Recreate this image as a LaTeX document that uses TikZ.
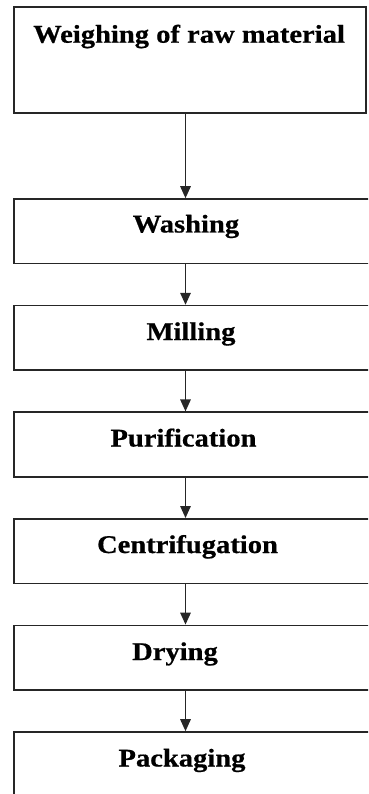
\documentclass[tikz,border=0pt]{standalone}
\usepackage{fontspec}
\setmainfont{Liberation Serif}[FakeStretch=1.12,BoldFeatures={FakeBold=0.6}]
\usetikzlibrary{arrows.meta}
\begin{document}
\begin{tikzpicture}[x=1pt,y=-1pt,
  box/.style={draw=black!85,line width=1.6pt,rectangle,inner sep=0pt,fill=none},
  lbl/.style={inner sep=0pt,anchor=base,font=\fontsize{25.5}{30}\selectfont\bfseries},
  arr/.style={draw=black!85,line width=1.5pt,-{Triangle[length=12pt,width=10.5pt]}}]
\useasboundingbox (0,0) rectangle (368,794);
\clip (0,0) rectangle (368,794);
\coordinate (ax) at (185.5,0);
% boxes
\node[box,minimum width=352pt,minimum height=106pt] (b0) at (190,60) {};
\node[box,minimum width=376pt,minimum height=64.5pt] (b1) at (202,231.25) {};
\node[box,minimum width=376pt,minimum height=64.5pt] (b2) at (202,337.85) {};
\node[box,minimum width=376pt,minimum height=64.5pt] (b3) at (202,444.45) {};
\node[box,minimum width=376pt,minimum height=64.5pt] (b4) at (202,551.05) {};
\node[box,minimum width=376pt,minimum height=64.5pt] (b5) at (202,657.65) {};
\node[box,minimum width=376pt,minimum height=64.5pt] (b6) at (202,764.25) {};
% labels
\node[lbl,anchor=base west] (t0) at (33,42.7) {Weighing of raw material};
\node[lbl] (t1) at (186,232.5) {Washing};
\node[lbl] (t2) at (191,340) {Milling};
\node[lbl] (t3) at (183.5,446.5) {Purification};
\node[lbl] (t4) at (187.5,553) {Centrifugation};
\node[lbl] (t5) at (175,660) {Drying};
\node[lbl] (t6) at (182,766.5) {Packaging};
% connectors
\draw[arr] (b0.south -| ax) -- (b1.north -| ax);
\draw[arr] (b1.south -| ax) -- (b2.north -| ax);
\draw[arr] (b2.south -| ax) -- (b3.north -| ax);
\draw[arr] (b3.south -| ax) -- (b4.north -| ax);
\draw[arr] (b4.south -| ax) -- (b5.north -| ax);
\draw[arr] (b5.south -| ax) -- (b6.north -| ax);
\end{tikzpicture}
\end{document}
